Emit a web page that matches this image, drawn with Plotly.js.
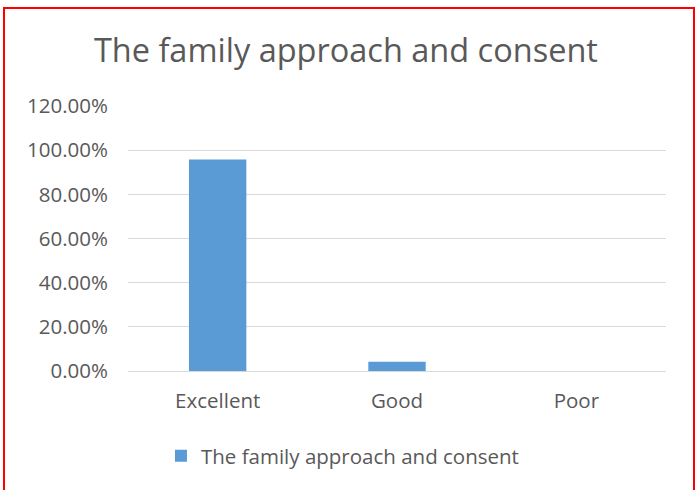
<!DOCTYPE html>
<html>
<head>
<meta charset="utf-8">
<script src="https://cdn.plot.ly/plotly-3.0.1.min.js"></script>
<style>
html,body{margin:0;padding:0;background:#fff;overflow:hidden;}
#wrap{position:relative;width:696px;height:490px;}
#chart{width:696px;height:490px;}
#frame{position:absolute;left:3px;top:7px;width:692px;height:500px;border:2px solid #ff0000;box-sizing:border-box;pointer-events:none;z-index:10;}
</style>
</head>
<body>
<div id="wrap">
<div id="chart"></div>
<div id="frame"></div>
</div>
<script>
const categories = ["Excellent", "Good", "Poor"];
const values = [0.958, 0.042, 0];
const seriesName = "The family approach and consent";
const yTicks = [0, 0.2, 0.4, 0.6, 0.8, 1.0, 1.2];

const font = "'Open Sans', 'Noto Sans', sans-serif";
Plotly.newPlot('chart', [{
  type: 'bar',
  x: categories,
  y: values,
  name: seriesName,
  marker: {color: '#5b9bd5'},
  showlegend: true
}], {
  width: 696, height: 490,
  margin: {l: 128, r: 30, t: 106, b: 119},
  paper_bgcolor: '#fff', plot_bgcolor: '#fff',
  font: {family: font, color: '#595959', size: 20},
  title: {text: "The family approach and consent", x: 0.497, xanchor: 'center', y: 0.897, yanchor: 'middle', font: {size: 32.5, color: '#595959', family: font}},
  bargap: 0.68,
  xaxis: {showgrid: false, zeroline: false, showline: false, ticks: '', ticklabelstandoff: 15, tickfont: {size: 20.5}},
  yaxis: {range: [0, 1.2], tickvals: yTicks, tickformat: '.2%', showgrid: true, gridcolor: '#d9d9d9', gridwidth: 1, zeroline: true, zerolinecolor: '#d9d9d9', zerolinewidth: 1, showline: false, ticks: '', ticklabelstandoff: 19, tickfont: {size: 20.5}},
  showlegend: true,
  legend: {orientation: 'h', x: 0.0613, xanchor: 'left', y: -0.32, yanchor: 'middle', font: {size: 20.5}, itemwidth: 30},
}, {displayModeBar: false, staticPlot: true});
</script>
</body>
</html>
